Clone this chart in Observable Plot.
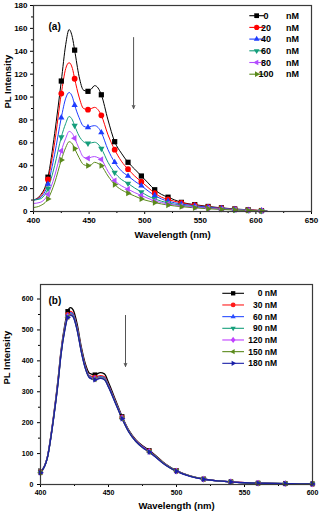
<!DOCTYPE html>
<html><head><meta charset="utf-8">
<script src="https://cdn.jsdelivr.net/npm/d3@7"></script>
<script src="https://cdn.jsdelivr.net/npm/@observablehq/plot@0.6"></script>
<style>
body{margin:0;background:#fff;}
#wrap{width:319px;height:516px;overflow:hidden;background:#fff;}
svg{display:block;}
</style></head><body><div id="wrap"></div>
<script>
// ---------- Panel (a) data ----------
const wavelengthsA = [400,406,413,419,425,429,432,435,437,441,445,449,452,455,458,461,467,473,479,485,491,497,503,509,515,521,533,545,557,569,581,593,605,610];
const markerWavelengthsA = [413,425,437,449,461,473,485,497,509,521,533,545,557,569,581,593,605];
const labelsA = ["0","20","40","60","80","100"];
const a0nM = [10,14,30,68,114,146,159,152,141,118,106,105,107,110,108,102,80,61,51,43,37,31,25,19,15,12.5,8,6,4.4,3.2,2.2,1.5,0.8,0.3];
const a20nM = [10,13,28,60,103,125,130,125,116,100,90,89,90,91,89,84,67,54,44,37,31,26,21,16,12.5,10.5,7.5,5.5,4,3,2,1.4,0.8,0.3];
const a40nM = [10,12,24,50,82,99,104,100,93,82,74.5,73.5,74.5,75,73.5,69,54,43,35.5,31,26.5,22.5,18,14,11,9,6.5,5,3.7,2.7,1.8,1.2,0.7,0.3];
const a60nM = [10,11,20,40,65,77,83,80,75,66,61,59.5,60,60.5,59,55,43,34,28,24.5,20.5,17,13.5,11,9,7.5,5.5,4.2,3.1,2.3,1.6,1,0.6,0.2];
const a80nM = [7,8,15,31,53,64,70,68,64,55,47.5,46.5,47.5,48,47,45.5,35,27,22.5,19.5,16.5,14,11.5,9.3,7.8,6.6,5,3.8,2.9,2.1,1.5,1,0.6,0.2];
const a100nM = [3.5,5,11,25,45,56,61,59,55,47,41,40,41,43,42,40,31,23.5,19,16,13.5,11,9.3,7.8,6.6,5.6,4.2,3.2,2.4,1.8,1.3,0.9,0.5,0.2];
const xTicksA = [400,450,500,550,600,650];
const xMinorA = [425,475,525,575,625];
const yTicksA = [0,20,40,60,80,100,120,140,160,180];
const yMinorA = [10,30,50,70,90,110,130,150,170];
const arrowA = [{x: 490, from: 152, to: 90}];

// ---------- Panel (b) data ----------
const wavelengthsB = [400,405,410,413,415,418,420,422,424,427,430,433,436,440,444,447,450,455,460,465,470,475,480,485,490,495,500,510,520,530,540,550,560,570,580,590,600];
const markerWavelengthsB = [400,420,440,460,480,500,520,540,560,580,600];
const labelsB = ["0","30","60","90","120","150","180"];
const b0nM = [40,88,235,345,430,520,560,572,565,518,445,390,360,355,362,358,330,275,220,175,145,125,110,92,73,57,45,28,18,12,9,6,4.5,3.5,3,2.5,2];
const b30nM = [40,87,232,340,425,512,550,560,553,508,438,383,352,347,352,348,322,270,217,173,143,123,108,90,72,56,44,27.5,17.5,12,8.8,6,4.5,3.5,3,2.5,2];
const b60nM = [39,87,230,338,423,510,547,556,550,505,435,380,350,344,349,345,320,268,216,172,142,122,107,89,71,56,44,27,17.5,11.8,8.7,5.9,4.4,3.4,2.9,2.4,2];
const b90nM = [39,86,229,336,421,508,545,553,547,503,433,378,348,342,347,343,318,267,215,171,141,121,106,89,71,55,43.5,27,17.3,11.7,8.6,5.8,4.3,3.4,2.9,2.4,1.9];
const b120nM = [38,86,228,335,420,506,543,551,545,501,431,377,347,341,345,341,317,266,214,170,141,121,106,88,70,55,43,26.8,17.2,11.6,8.5,5.8,4.3,3.3,2.8,2.3,1.9];
const b150nM = [38,85,227,333,418,504,541,549,543,499,430,376,346,340,344,340,316,265,213,170,140,120,105,88,70,54.5,43,26.7,17.1,11.5,8.5,5.7,4.2,3.3,2.8,2.3,1.9];
const b180nM = [38,85,226,332,417,503,540,548,542,498,429,375,345,339,343,339,315,264,213,169,140,120,105,87,69,54,42.5,26.5,17,11.5,8.4,5.7,4.2,3.3,2.8,2.3,1.9];
const xTicksB = [400,450,500,550,600];
const xMinorB = [425,475,525,575];
const yTicksB = [0,100,200,300,400,500,600];
const yMinorB = [50,150,250,350,450,550];
const arrowB = [{x: 462.5, from: 547, to: 382}];

// ---------- symbols ----------
const rad = s => Math.sqrt(s / Math.PI);
const symSquare = {draw(c, s){const r = rad(s)*0.9; c.rect(-r,-r,2*r,2*r);}};
const symCircle = {draw(c, s){const r = rad(s); c.moveTo(r,0); c.arc(0,0,r,0,2*Math.PI);}};
function tri(angle){return {draw(c, s){const r = rad(s)*1.25; for(let i=0;i<3;i++){const a = angle + i*2*Math.PI/3; const x = r*Math.cos(a), y = r*Math.sin(a); if(i) c.lineTo(x,y); else c.moveTo(x,y);} c.closePath();}};}
const symUp = tri(-Math.PI/2), symDown = tri(Math.PI/2), symLeft = tri(Math.PI), symRight = tri(0);
const symDiamond = {draw(c, s){const r = rad(s)*1.3; c.moveTo(0,-r); c.lineTo(r*0.75,0); c.lineTo(0,r); c.lineTo(-r*0.75,0); c.closePath();}};

const seriesA = [
  {label: labelsA[0], values: a0nM, color: "#000000", symbol: symSquare},
  {label: labelsA[1], values: a20nM, color: "#ff0000", symbol: symCircle},
  {label: labelsA[2], values: a40nM, color: "#1f3dff", symbol: symUp},
  {label: labelsA[3], values: a60nM, color: "#159e7b", symbol: symDown},
  {label: labelsA[4], values: a80nM, color: "#b24cff", symbol: symLeft},
  {label: labelsA[5], values: a100nM, color: "#5b8a1c", symbol: symRight}
];
const seriesB = [
  {label: labelsB[0], values: b0nM, color: "#000000", symbol: symSquare},
  {label: labelsB[1], values: b30nM, color: "#ff1a1a", symbol: symCircle},
  {label: labelsB[2], values: b60nM, color: "#2a4dff", symbol: symUp},
  {label: labelsB[3], values: b90nM, color: "#17a07c", symbol: symDown},
  {label: labelsB[4], values: b120nM, color: "#c040ff", symbol: symDiamond},
  {label: labelsB[5], values: b150nM, color: "#5b8a1c", symbol: symLeft},
  {label: labelsB[6], values: b180nM, color: "#1a1fa8", symbol: symRight}
];

function tidy(series, wl){
  return series.map(s => wl.map((w, i) => ({wl: w, v: s.values[i], label: s.label})));
}

function panel(cfg){
  const rows = tidy(cfg.series, cfg.wl);
  const marks = [];
  marks.push(Plot.axisX({ticks: cfg.xTicks, tickSize: 3, tickPadding: cfg.xPad, tickFormat: d => d, label: null}));
  marks.push(Plot.axisX({ticks: cfg.xMinor, tickSize: 2, tickFormat: () => "", label: null}));
  marks.push(Plot.axisY({ticks: cfg.yTicks, tickSize: 3, tickPadding: cfg.yPad, tickFormat: d => d, label: null}));
  marks.push(Plot.axisY({ticks: cfg.yMinor, tickSize: 2, tickFormat: () => "", label: null}));
  cfg.series.forEach((s, k) => {
    marks.push(Plot.line(rows[k], {x: "wl", y: "v", stroke: s.color, strokeWidth: cfg.lw, curve: "monotone-x"}));
  });
  cfg.series.forEach((s, k) => {
    marks.push(Plot.dot(rows[k].filter(d => cfg.markers.includes(d.wl)), {x: "wl", y: "v", r: cfg.r, symbol: s.symbol, fill: s.color}));
  });
  marks.push(Plot.arrow(cfg.arrow, {x1: "x", x2: "x", y1: "from", y2: "to", stroke: "#555", strokeWidth: 1, headLength: 5, headAngle: 45}));
  marks.push(Plot.text([cfg.tag], {text: d => d, frameAnchor: "top-left", dx: cfg.tagDx, dy: cfg.tagDy, textAnchor: "start", fontSize: 10, fontWeight: "bold"}));
  marks.push(Plot.text(["PL Intensity"], {text: d => d, frameAnchor: "left", rotate: -90, dx: cfg.ylabDx, fontSize: 9.5, fontWeight: "bold"}));
  marks.push(Plot.text(["Wavelength (nm)"], {text: d => d, frameAnchor: "bottom", dy: cfg.xlabDy, fontSize: 9.5, fontWeight: "bold"}));
  marks.push(Plot.frame({stroke: "#3a3a3a", strokeWidth: 1.2}));
  const svg = Plot.plot({
    width: 319, height: cfg.height,
    marginTop: cfg.mt, marginBottom: cfg.mb, marginLeft: cfg.ml, marginRight: cfg.mr,
    x: {domain: cfg.xDomain},
    y: {domain: cfg.yDomain},
    style: {fontFamily: "'Liberation Sans', Arial, sans-serif", fontSize: cfg.tickFont + "px", fontWeight: "bold", background: "#fff", color: "#000", overflow: "visible"},
    marks
  });
  return svg;
}

function legend(svg, series, o){
  const g = d3.select(svg).append("g").attr("font-weight", "bold").attr("font-size", o.fontSize).attr("font-family", "'Liberation Sans', Arial, sans-serif");
  series.forEach((s, i) => {
    const y = o.top + i*o.step;
    g.append("line").attr("x1", o.x1).attr("x2", o.x2).attr("y1", y).attr("y2", y).attr("stroke", s.color).attr("stroke-width", 1.1);
    g.append("path").attr("transform", `translate(${(o.x1+o.x2)/2},${y})`).attr("d", d3.symbol(s.symbol, o.area)()).attr("fill", s.color);
    if (o.split) {
      g.append("text").attr("x", o.numX).attr("y", y).attr("dy", "0.35em").text(s.label);
      g.append("text").attr("x", o.unitX).attr("y", y).attr("dy", "0.35em").text("nM");
    } else {
      g.append("text").attr("x", o.endX).attr("y", y).attr("dy", "0.35em").attr("text-anchor", "end").text(s.label + " nM");
    }
  });
}

const wrap = document.getElementById("wrap");

const svgA = panel({
  series: seriesA, wl: wavelengthsA, markers: markerWavelengthsA,
  xTicks: xTicksA, xMinor: xMinorA, yTicks: yTicksA, yMinor: yMinorA,
  xDomain: [400, 650], yDomain: [0, 180],
  height: 245, mt: 5, mb: 34, ml: 33, mr: 8,
  xPad: 3, yPad: 3, tickFont: 8, lw: 1, r: 2.9,
  arrow: arrowA, tag: "(a)", tagDx: 15, tagDy: 17, ylabDx: -26, xlabDy: 26
});
legend(svgA, seriesA, {top: 15.7, step: 11.7, x1: 249.3, x2: 264, area: 22, fontSize: 9, split: true, numX: 266, unitX: 292.5});
wrap.appendChild(svgA);

const svgB = panel({
  series: seriesB, wl: wavelengthsB, markers: markerWavelengthsB,
  xTicks: xTicksB, xMinor: xMinorB, yTicks: yTicksB, yMinor: yMinorB,
  xDomain: [400, 600], yDomain: [0, 647],
  height: 271, mt: 39, mb: 32, ml: 40, mr: 7,
  xPad: 3, yPad: 4, tickFont: 7, lw: 1.3, r: 2.6,
  arrow: arrowB, tag: "(b)", tagDx: 8, tagDy: 12, ylabDx: -34, xlabDy: 24
});
legend(svgB, seriesB, {top: 48.3, step: 11.67, x1: 222.3, x2: 244, area: 18, fontSize: 8.5, split: false, endX: 277});
wrap.appendChild(svgB);
</script>
</body></html>
